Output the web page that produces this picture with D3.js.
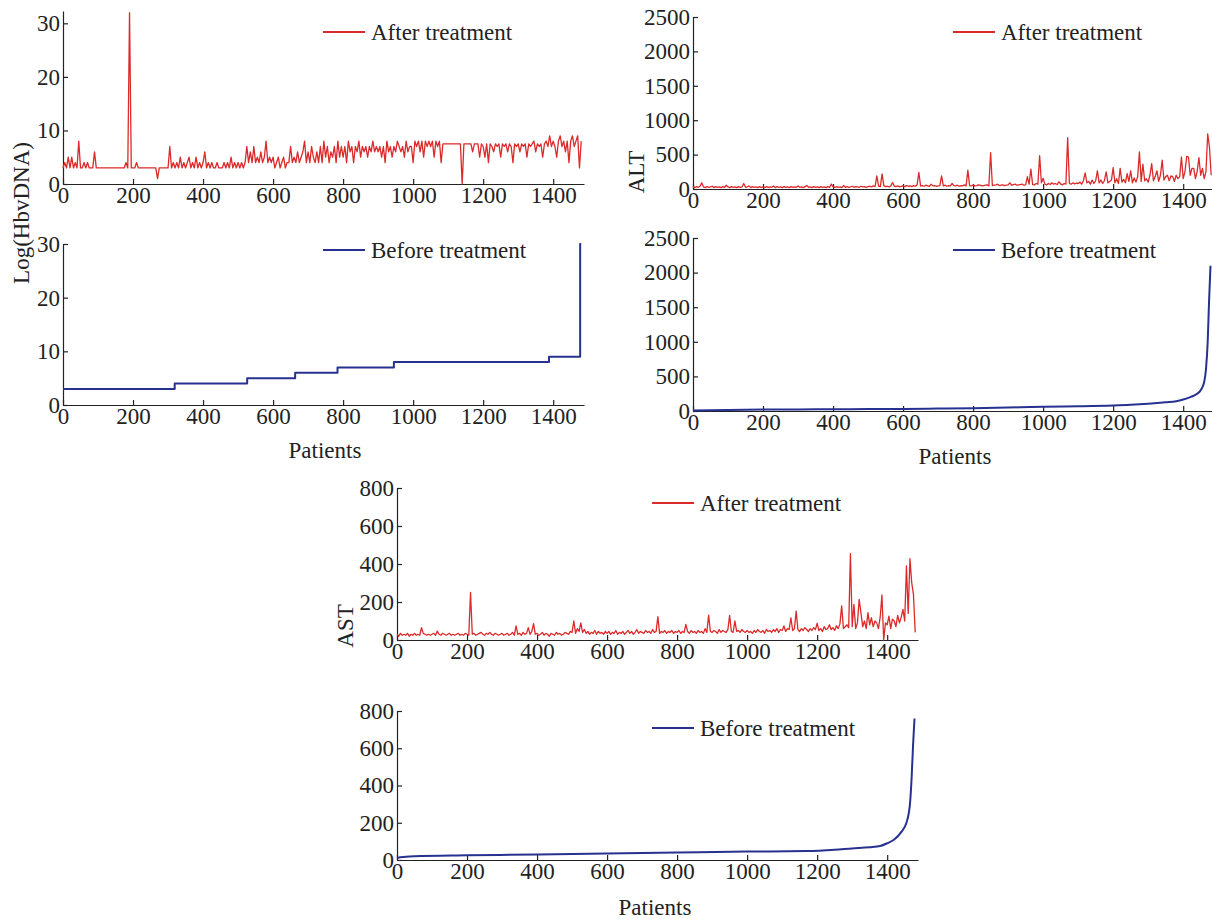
<!DOCTYPE html>
<meta charset="utf-8">
<style>
body { margin: 0; background: #fff; }
text { font-family: "Liberation Serif", "Times New Roman", serif; fill: #222; }
.axis path, .axis line { stroke: #222; stroke-width: 1.2px; }
.axis text { font-size: 23px; }
</style>
<body>
<svg width="1212" height="919"></svg>
<script src="https://d3js.org/d3.v7.min.js"></script>
<script>

// patient index step for the "after" series
var step = 5;
var xMax = 1488;

// Log(HbvDNA) after treatment, one value every 5 patients (0..1480)
var dnaAfter = [
  3,4,3,5,3,5,3,4,3,8,3,3,4,3,4,3,3,3,6,3,
  3,3,3,3,3,3,3,3,3,3,3,3,3,3,3,3,4,3,32,3,
  3,3,4,3,3,3,3,3,3,3,3,3,3,3,1,3,3,3,3,3,
  3,7,3,4,3,4,3,5,3,4,3,4,5,3,4,3,5,3,4,3,
  4,6,3,4,3,4,3,3,4,3,3,3,4,3,4,3,5,3,4,3,
  4,3,4,3,4,7,4,6,4,7,4,5,4,6,4,5,8,4,5,4,
  5,3,4,5,3,4,5,3,4,4,7,4,5,4,6,4,5,6,8,4,
  6,4,7,5,4,6,4,7,4,8,5,7,4,6,5,7,4,8,5,7,
  5,7,4,8,6,7,4,7,6,8,5,7,6,7,5,7,6,8,6,7,
  6,7,5,7,4,8,6,7,5,7,6,8,7,6,7,5,8,6,7,7,
  4,8,7,8,6,8,5,8,7,8,7,8,5,8,7,8,4,7.5,7.5,7.5,
  7.5,7.5,7.5,7.5,7.5,7.5,7.5,7.5,0,7.5,7.5,7.5,7.5,7.5,6,7.5,7.5,7.5,5,7.5,
  7,5,7.5,4,7.5,7,6,7.5,7,7.5,5,7.5,7,7.5,6,7.5,7,4,7.5,7,
  7.5,6,7.5,7,7.5,5,7.5,7,7.5,8,6,7.5,7,7.5,5,7.5,8,7,9,7,
  8,7,5,8,9,7,8,6,8,4,8,9,7,8,9,3,8
];

// ALT after treatment, one value every 5 patients
var altAfter = [
  30,20,35,25,40,90,30,20,35,25,30,40,20,35,25,30,20,35,25,55,
  30,20,35,25,30,20,35,25,30,80,25,30,45,20,35,25,30,20,35,25,
  30,20,35,25,30,25,45,20,35,25,30,20,35,25,30,20,35,25,30,25,
  45,25,30,20,35,50,25,30,20,35,25,30,20,35,25,30,20,35,25,70,
  30,25,35,25,30,20,50,25,35,25,30,40,25,35,30,25,40,30,35,25,
  35,40,30,45,35,190,40,35,220,45,35,40,30,45,95,40,35,45,30,40,
  45,35,50,40,45,35,50,40,60,240,45,50,40,55,45,40,70,45,50,40,
  45,50,190,45,55,40,50,45,80,50,45,55,40,50,45,60,45,275,50,45,
  55,45,50,60,55,45,50,55,60,45,530,50,55,60,70,50,55,60,50,55,
  60,90,55,65,70,55,60,65,70,55,60,180,70,290,65,60,80,70,485,90,
  155,70,60,80,65,90,70,80,65,105,75,60,80,70,745,80,70,90,75,85,
  80,100,70,120,235,90,110,70,130,80,120,265,90,130,80,120,250,90,110,130,
  310,90,150,80,300,100,140,90,225,110,265,90,160,100,180,540,110,360,120,150,
  100,200,370,120,180,265,110,200,420,130,180,200,120,190,180,110,200,150,180,465,
  150,250,475,465,200,300,300,150,260,455,200,300,150,250,800,610,200
];

// AST after treatment, one value every 5 patients
var astAfter = [
  30,20,35,25,30,25,35,20,30,25,35,25,30,25,65,35,30,25,30,25,
  30,35,25,47,30,25,35,30,25,30,35,25,30,25,30,35,25,30,25,35,
  30,25,250,30,35,25,30,35,40,30,25,35,30,40,30,25,35,30,25,30,
  35,25,30,35,25,30,40,25,74,30,35,25,40,30,35,65,30,45,86,30,
  35,25,30,40,25,35,30,20,35,30,25,40,30,35,25,30,40,35,30,45,
  40,100,35,60,45,90,40,55,35,45,30,40,35,50,30,45,35,40,30,45,
  35,45,30,40,35,50,30,40,35,45,30,40,50,35,45,30,40,55,35,45,
  40,35,50,40,45,35,55,40,45,123,35,45,40,50,35,45,40,50,35,45,
  40,50,35,45,40,82,45,35,50,40,45,35,50,40,45,35,60,40,131,45,
  40,50,45,35,55,40,50,45,40,55,130,45,40,100,45,50,40,55,45,40,
  50,40,45,35,50,40,55,45,40,50,35,55,45,50,40,55,45,60,40,55,
  50,74,45,60,55,117,50,60,152,55,45,60,50,65,55,45,60,50,65,55,
  88,50,60,45,70,55,60,80,55,65,50,75,60,85,180,60,70,80,65,455,
  70,188,60,90,214,144,70,100,60,144,80,117,70,100,90,60,120,237,0,90,
  80,126,60,110,100,70,130,90,120,161,100,390,140,428,302,240,40
];

// before treatment: sorted values
var dnaBeforePatients = [0, 319, 526, 663, 784, 945, 1388, 1477, 1480];
var dnaBeforeLevels   = [3, 4, 5, 6, 7, 8, 9, 30, 30];

var altBeforePatients = [0,100,200,300,400,500,600,700,800,900,1000,1100,1200,1250,1300,1350,1380,1400,1420,1440,1450,1460,1465,1470,1474,1478];
var altBeforeValues   = [8,15,20,22,25,28,30,35,40,50,60,68,80,90,105,125,140,165,200,250,300,420,600,1000,1600,2100];

var astBeforePatients = [0,10,50,200,400,600,800,1000,1170,1250,1300,1350,1380,1400,1420,1440,1455,1465,1470,1474,1478];
var astBeforeValues   = [10,15,20,25,30,35,40,45,48,55,62,68,75,90,110,150,200,300,450,620,760];

var xTicks = [0, 200, 400, 600, 800, 1000, 1200, 1400];

var svg = d3.select("svg");

function panel(o) {
  var x = d3.scaleLinear().domain([0, xMax]).range([o.left, o.left + 521]);
  var y = d3.scaleLinear().domain(o.yDomain).range([o.bottom, o.top]);

  svg.append("g")
      .attr("class", "axis")
      .attr("transform", "translate(0," + o.bottom + ")")
      .call(d3.axisBottom(x).tickValues(xTicks).tickFormat(d3.format("d"))
        .tickSizeInner(-5).tickSizeOuter(0).tickPadding(3));

  svg.append("g")
      .attr("class", "axis")
      .attr("transform", "translate(" + o.left + ",0)")
      .call(d3.axisLeft(y).tickValues(o.yTicks).tickFormat(d3.format("d"))
        .tickSizeInner(-5).tickSizeOuter(0).tickPadding(3));

  var line = d3.line()
      .x(function(d) { return x(d[0]); })
      .y(function(d) { return y(d[1]); })
      .curve(o.curve || d3.curveLinear);

  svg.append("path")
      .datum(o.data)
      .attr("fill", "none")
      .attr("stroke", o.color)
      .attr("stroke-width", o.width)
      .attr("stroke-linejoin", "round")
      .attr("d", line);

  svg.append("line")
      .attr("x1", o.legendX).attr("x2", o.legendX + 42)
      .attr("y1", o.legendY).attr("y2", o.legendY)
      .attr("stroke", o.color)
      .attr("stroke-width", 2);

  svg.append("text")
      .attr("x", o.legendX + 48)
      .attr("y", o.legendY)
      .attr("dy", "0.35em")
      .attr("font-size", "23px")
      .text(o.label);
}

function everyStep(vals) {
  return vals.map(function(v, i) { return [i * step, v]; });
}
function zipXY(xs, ys) {
  return xs.map(function(v, i) { return [v, ys[i]]; });
}

var red = "#dc2a2a", blue = "#27318f";

// HbvDNA
panel({left: 63, bottom: 184, top: 11, yDomain: [0, 32.3], yTicks: [0, 10, 20, 30],
       data: everyStep(dnaAfter), color: red, width: 1.3, label: "After treatment",
       legendX: 323, legendY: 32});
panel({left: 63, bottom: 405, top: 244, yDomain: [0, 30], yTicks: [0, 10, 20, 30],
       data: zipXY(dnaBeforePatients, dnaBeforeLevels), curve: d3.curveStepAfter,
       color: blue, width: 2, label: "Before treatment", legendX: 323, legendY: 250});

// ALT
panel({left: 693, bottom: 189, top: 17, yDomain: [0, 2500], yTicks: [0, 500, 1000, 1500, 2000, 2500],
       data: everyStep(altAfter), color: red, width: 1.3, label: "After treatment",
       legendX: 953, legendY: 32});
panel({left: 693, bottom: 411, top: 238, yDomain: [0, 2500], yTicks: [0, 500, 1000, 1500, 2000, 2500],
       data: zipXY(altBeforePatients, altBeforeValues), curve: d3.curveMonotoneX,
       color: blue, width: 2, label: "Before treatment", legendX: 953, legendY: 250});

// AST
panel({left: 397, bottom: 640, top: 488, yDomain: [0, 800], yTicks: [0, 200, 400, 600, 800],
       data: everyStep(astAfter), color: red, width: 1.3, label: "After treatment",
       legendX: 652, legendY: 503});
panel({left: 397, bottom: 860, top: 711, yDomain: [0, 800], yTicks: [0, 200, 400, 600, 800],
       data: zipXY(astBeforePatients, astBeforeValues), curve: d3.curveMonotoneX,
       color: blue, width: 2, label: "Before treatment", legendX: 652, legendY: 728});

// axis titles
function title(txt, x, y, rot) {
  svg.append("text")
      .attr("transform", "translate(" + x + "," + y + ")" + (rot ? " rotate(-90)" : ""))
      .attr("text-anchor", "middle")
      .attr("dy", "0.35em")
      .attr("font-size", "23px")
      .text(txt);
}
title("Log(HbvDNA)", 21, 213, true);
title("ALT", 636, 172, true);
title("AST", 345, 626, true);
title("Patients", 325, 450);
title("Patients", 955, 456);
title("Patients", 655, 907);

</script>
</body>
